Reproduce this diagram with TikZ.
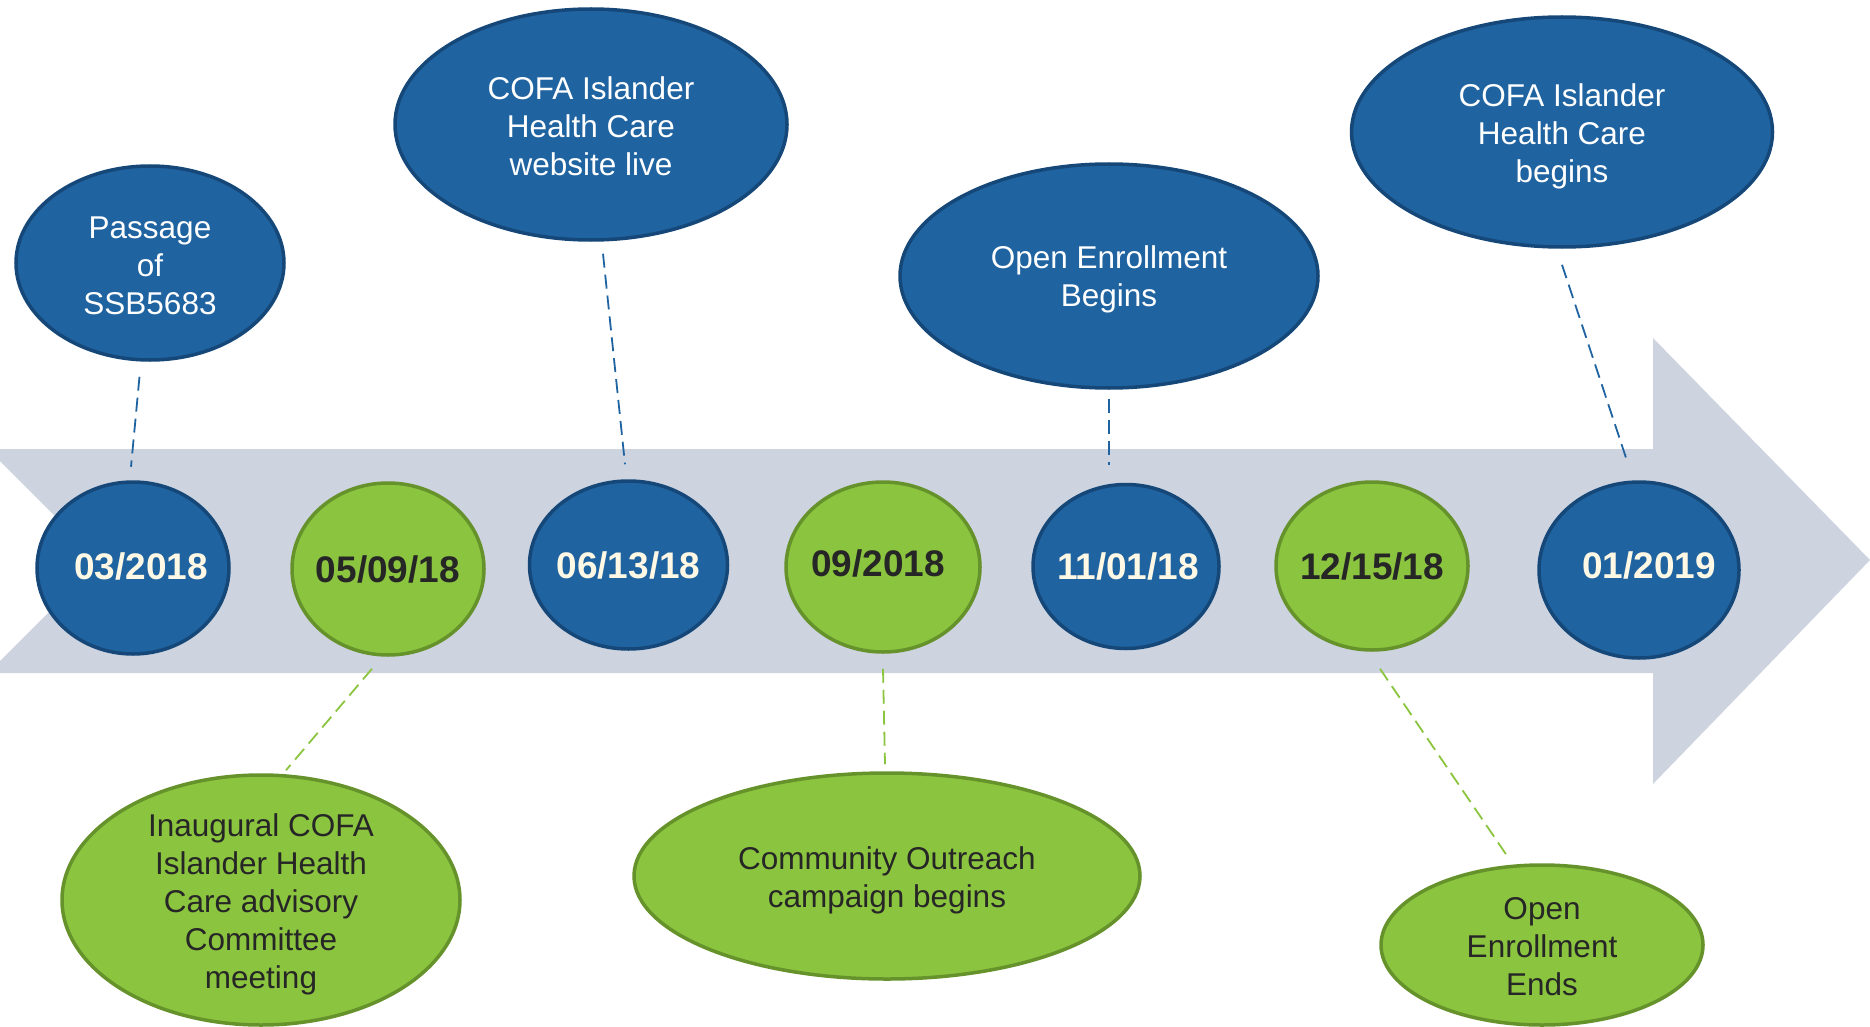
\documentclass[tikz,border=0pt]{standalone}
\usepackage{fontspec}
\setmainfont{Liberation Sans}
\usetikzlibrary{shapes.geometric,calc}
\definecolor{bandgray}{HTML}{CDD3DF}
\definecolor{bluefill}{HTML}{1F63A0}
\definecolor{blueline}{HTML}{154878}
\definecolor{greenfill}{HTML}{8BC43F}
\definecolor{greenline}{HTML}{66922B}
\definecolor{cream}{HTML}{FFF8E5}
\definecolor{darktext}{HTML}{262626}
\newcommand{\tstrut}[1]{\rule{0pt}{#1}}
\newcommand{\dstrut}[1]{\rule[-#1]{0pt}{#1}}
\tikzset{
  sz/.style 2 args={minimum width=#1pt, minimum height=#2pt},
  ev/.style={ellipse, inner sep=-40pt, line width=3.5pt, align=center,
    font=\fontsize{31.5}{38}\selectfont},
  bev/.style={ev, draw=blueline, fill=bluefill, text=white},
  gev/.style={ev, draw=greenline, fill=greenfill, text=darktext},
  dt/.style={ellipse, inner sep=-40pt, line width=3.5pt,
    font=\fontsize{37}{44}\selectfont\bfseries},
  bdate/.style={dt, draw=blueline, fill=bluefill, text=cream},
  gdate/.style={dt, draw=greenline, fill=greenfill, text=darktext},
  bdash/.style={draw=bluefill, line width=1.8pt, dash pattern=on 14pt off 7pt},
  gdash/.style={draw=greenfill, line width=1.8pt, dash pattern=on 14pt off 7pt},
}
\begin{document}
\begin{tikzpicture}[x=1pt,y=-1pt]
\useasboundingbox (0,0) rectangle (1870,1027);
% band arrow
\fill[bandgray] (-12,449) -- (1653,449) -- (1653,338) -- (1870,560) -- (1653,784)
  -- (1653,673) -- (-12,673) -- (100,561) -- cycle;
% date circles
\node[bdate, sz={192}{172}] (d1) at (133,568) {\hspace*{16pt}03/2018\dstrut{4.8pt}};
\node[gdate, sz={192}{172}] (d2) at (388,569) {05/09/18};
\node[bdate, sz={198}{168}] (d3) at (628.5,565) {06/13/18};
\node[gdate, sz={194}{170}] (d4) at (883,567) {09/2018\dstrut{7pt}\hspace*{10pt}};
\node[bdate, sz={186}{164}] (d5) at (1126,566.5) {\hspace*{4pt}11/01/18};
\node[gdate, sz={192}{168}] (d6) at (1372,566) {12/15/18};
\node[bdate, sz={200}{176}] (d7) at (1639,570) {\hspace*{20pt}01/2019\dstrut{9.6pt}};
% top events
\node[bev, sz={268}{194}] (A) at (150,263) {\tstrut{28pt}Passage\\of\\SSB5683};
\node[bev, sz={392}{231}] (B) at (591,124.5) {\tstrut{25.5pt}COFA Islander\\Health Care\\website live};
\node[bev, sz={418}{224}] (C) at (1109,276) {\tstrut{30pt}Open Enrollment\\Begins};
\node[bev, sz={421}{230}] (D) at (1562,132) {\tstrut{32.5pt}COFA Islander\\Health Care\\begins};
% bottom events
\node[gev, sz={398}{250}] (E) at (261,900) {\tstrut{32.5pt}Inaugural COFA\\Islander Health\\Care advisory\\Committee\\meeting};
\node[gev, sz={506}{206}] (F) at (887,876) {\tstrut{32.5pt}Community Outreach\\campaign begins};
\node[gev, sz={322}{160}] (G) at (1542,945) {\tstrut{25.5pt}Open\\Enrollment\\Ends};
% connectors
\draw[bdash] ($(A.south)+(-10.5,15)$) -- ($(d1.north)+(-2,-13.5)$);
\draw[bdash] ($(B.south)+(12,12)$) -- ($(d3.north)+(-3.5,-15)$);
\draw[bdash] ($(C.south)+(0,9)$) -- ($(d5.north)+(-17,-17.5)$);
\draw[bdash] ($(D.south)+(0,16)$) -- ($(d7.north)+(-13,-22.5)$);
\draw[gdash] ($(d2.south)+(-16,12)$) -- ($(E.north)+(25,-3)$);
\draw[gdash] ($(d4.south)+(0,15)$) -- ($(F.north)+(-2,-7)$);
\draw[gdash] ($(d6.south)+(8,17)$) -- ($(G.north)+(-36,-9)$);
\end{tikzpicture}
\end{document}
